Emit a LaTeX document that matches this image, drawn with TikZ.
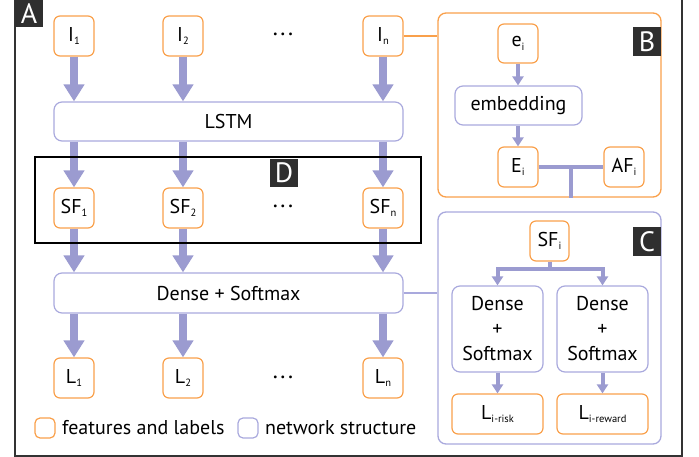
\documentclass[tikz,border=0pt]{standalone}
\usepackage{fontspec}
\setmainfont{PT Sans}
\usetikzlibrary{arrows.meta,positioning}
\definecolor{feat}{HTML}{F9A04B}
\definecolor{net}{HTML}{A9A9DD}
\definecolor{flow}{HTML}{9B9BD0}
\definecolor{tagbg}{HTML}{2F2F2F}
\newcommand{\idx}[1]{\raisebox{-3.5pt}{\fontsize{10.5}{10.5}\selectfont #1}}

\begin{document}
\begin{tikzpicture}[x=1pt,y=-1pt,font=\fontsize{20}{25}\selectfont,
  feature/.style={draw=feat,line width=1.2pt,rounded corners=6pt,minimum width=40pt,minimum height=40pt,inner sep=0pt},
  layer/.style={draw=net,line width=1.2pt,rounded corners=8pt,inner sep=0pt,align=center},
  panel/.style={line width=1.3pt,rounded corners=8pt,inner sep=0pt},
  letter/.style={fill=tagbg,text=white,minimum width=28pt,minimum height=28pt,inner sep=0pt,font=\fontsize{28}{28}\selectfont},
  dotsrow/.style={font=\fontsize{10}{10}\selectfont},
  bigflow/.style={draw=flow,line width=8pt,-{Triangle[width=20pt,length=17pt]}},
  smallflow/.style={draw=flow,line width=4pt,-{Triangle[width=11pt,length=9pt]}},
  branch/.style={draw=flow,line width=4pt}]
 		\useasboundingbox (0,0) rectangle (699,457);
 		% main frame
 		\draw[line width=1.5pt,draw=black!80] (15,0) -- (15,456) -- (682,456) -- (682,0);
 		\node[letter,minimum height=27pt] (tagA) at (29,13.5) {A};
 		% inputs
 		\node[feature] (i1) at (74,36) {I\idx{1}};
 		\node[feature] (i2) at (183,36) {I\idx{2}};
 		\node[dotsrow] (dotsI) at (283,35) {\textbullet\hspace{3pt}\textbullet\hspace{3pt}\textbullet};
 		\node[feature] (in) at (383,36) {I\idx{n}};
 		\node[layer,minimum width=349pt,minimum height=39pt] (lstm) at (228.5,121.5) {LSTM};
 		% sequence features
 		\node[feature] (sf1) at (74,208) {SF\idx{1}};
 		\node[feature] (sf2) at (183,208) {SF\idx{2}};
 		\node[dotsrow] (dotsSF) at (283,207) {\textbullet\hspace{3pt}\textbullet\hspace{3pt}\textbullet};
 		\node[feature] (sfn) at (383,208) {SF\idx{n}};
 		\node[layer,minimum width=349pt,minimum height=40pt] (dense) at (228.5,293) {Dense + Softmax};
 		% labels
 		\node[feature] (l1) at (74,378) {L\idx{1}};
 		\node[feature] (l2) at (183,378) {L\idx{2}};
 		\node[dotsrow] (dotsL) at (283,378) {\textbullet\hspace{3pt}\textbullet\hspace{3pt}\textbullet};
 		\node[feature] (ln) at (383,378) {L\idx{n}};
 		\draw[bigflow] (i1) -- (i1 |- lstm.north);
 		\draw[bigflow] (i2) -- (i2 |- lstm.north);
 		\draw[bigflow] (in) -- (in |- lstm.north);
 		\draw[bigflow] (sf1 |- lstm.south) -- (sf1);
 		\draw[bigflow] (sf2 |- lstm.south) -- (sf2);
 		\draw[bigflow] (sfn |- lstm.south) -- (sfn);
 		\draw[bigflow] (sf1) -- (sf1 |- dense.north);
 		\draw[bigflow] (sf2) -- (sf2 |- dense.north);
 		\draw[bigflow] (sfn) -- (sfn |- dense.north);
 		\draw[bigflow] (l1 |- dense.south) -- (l1);
 		\draw[bigflow] (l2 |- dense.south) -- (l2);
 		\draw[bigflow] (ln |- dense.south) -- (ln);
 		% block D
 		\draw[line width=1.2pt] (35,157) rectangle (421,243);
 		\node[letter] (tagD) at (284,173) {D};
 		% legend
 		\node[feature,minimum width=20pt,minimum height=20pt,rounded corners=5pt] (keyfeat) at (45,428) {};
 		\node[right=3pt of keyfeat] (keyfeattext) {features and labels};
 		\node[layer,minimum width=20pt,minimum height=20pt,rounded corners=5pt] (keynet) at (248,428) {};
 		\node[right=3pt of keynet] (keynettext) {network structure};
 		% panel B
 		\node[panel,draw=feat,minimum width=223pt,minimum height=184pt] (panelB) at (549.5,105) {};
 		\node[letter,minimum height=29pt] (tagB) at (647,41.5) {B};
 		\node[feature,minimum height=39pt] (ei) at (518,43.5) {e\idx{i}};
 		\node[layer,minimum width=127pt,minimum height=39pt] (emb) at (518.5,105.5) {embedding};
 		\node[feature] (Ei) at (518,167) {E\idx{i}};
 		\node[feature] (AFi) at (624,167) {AF\idx{i}};
 		\coordinate (join) at (571,167);
 		\draw[smallflow] (ei) -- (ei |- emb.north);
 		\draw[smallflow] (Ei |- emb.south) -- (Ei);
 		\draw[branch] (Ei) -- (AFi);
 		\draw[branch] (join) -- (join |- panelB.south);
 		\draw[feat,line width=1.3pt] (in) -- (in -| panelB.west);
 		% panel C
 		\node[panel,draw=net,minimum width=223pt,minimum height=232pt] (panelC) at (549.5,328) {};
 		\node[letter,minimum height=29pt] (tagC) at (647,241.5) {C};
 		\node[feature,minimum width=39pt] (sfi) at (549.5,241) {SF\idx{i}};
 		\node[layer,minimum width=91pt,minimum height=86pt] (dl) at (497.5,329) {Dense\\+\\Softmax};
 		\node[layer,minimum width=91pt,minimum height=86pt] (dr) at (602.5,329) {Dense\\+\\Softmax};
 		\node[feature,minimum width=91pt] (lrisk) at (497.5,414) {L\idx{i-risk}};
 		\node[feature,minimum width=91pt] (lreward) at (602.5,414) {L\idx{i-reward}};
 		\coordinate (split) at (549.5,269);
 		\draw[branch] (sfi) -- (split);
 		\draw[smallflow] (split) -| (dl);
 		\draw[smallflow] (split) -| (dr);
 		\draw[smallflow] (dl) -- (lrisk);
 		\draw[smallflow] (dr) -- (lreward);
 		\draw[net,line width=1.3pt] (dense) -- (dense -| panelC.west);
\end{tikzpicture}
\end{document}
